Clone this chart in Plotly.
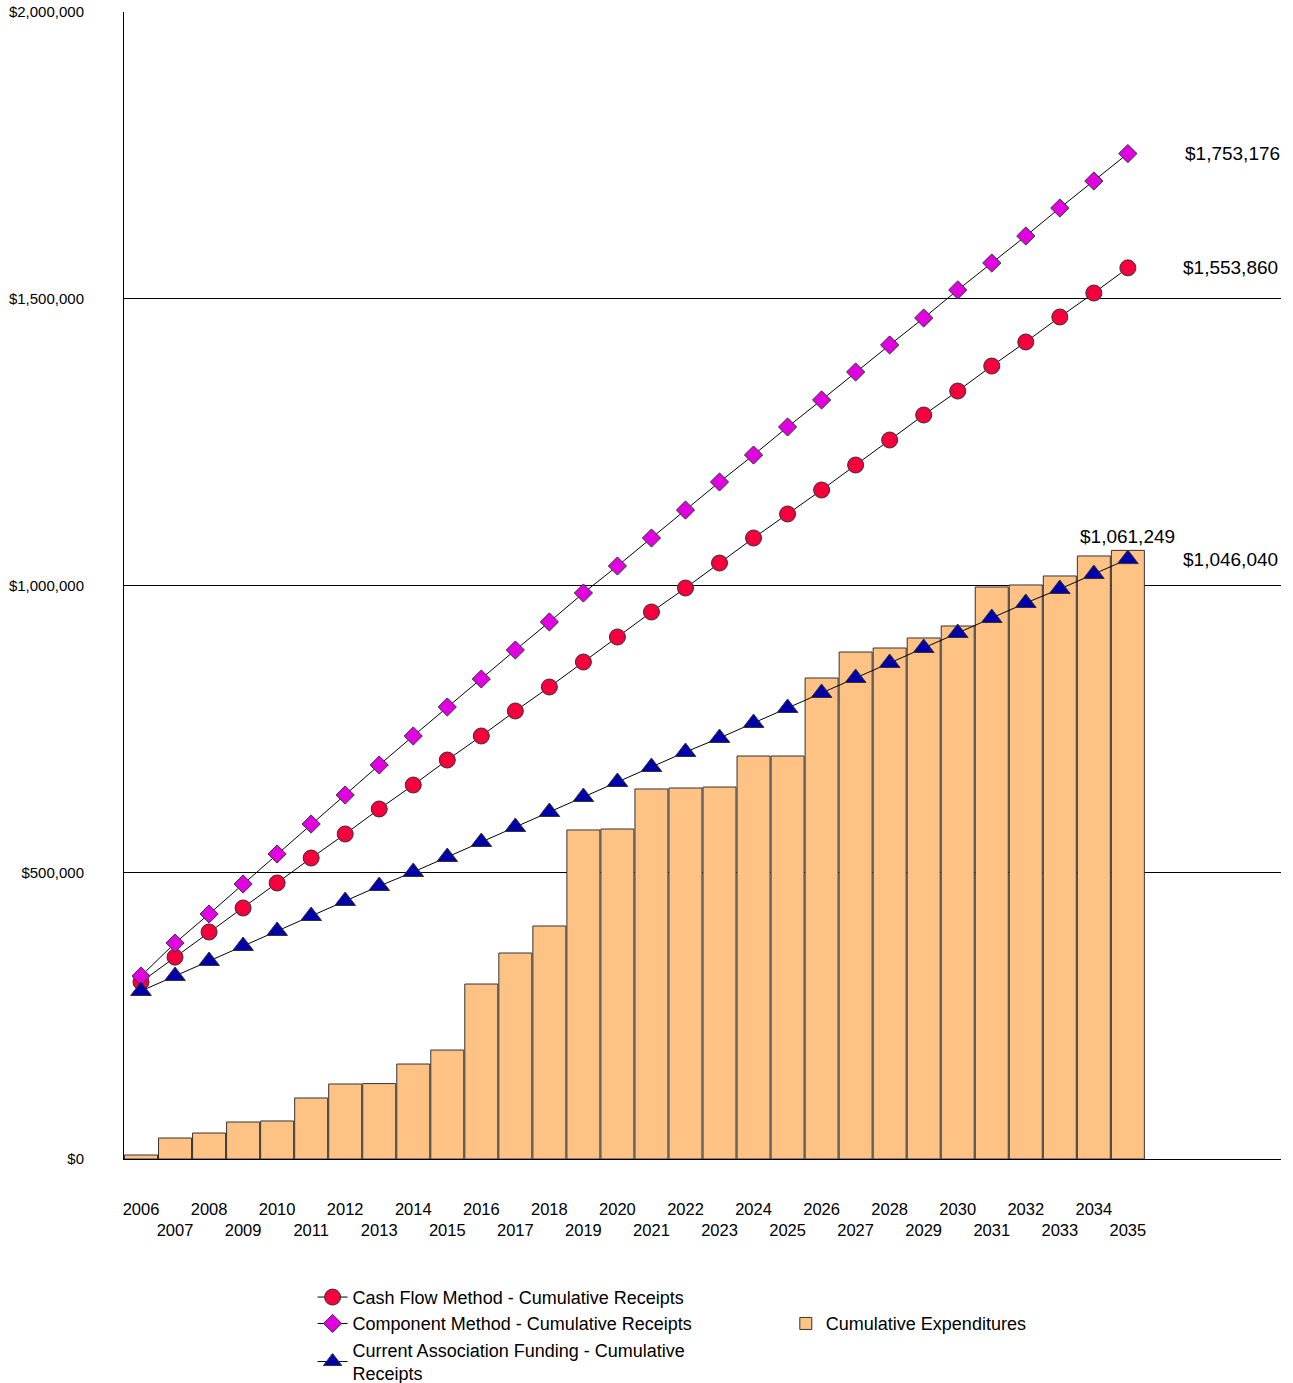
import plotly.graph_objects as go

years = list(range(2006, 2036))

expenditures = [7000, 36600, 45300, 64500, 66300, 106400, 130800, 131500, 165600, 190000,
                305100, 359200, 406300, 573700, 575400, 645200, 646900, 648600, 702700, 702700,
                838700, 884000, 891000, 908500, 929400, 997400, 1000900, 1016600, 1051500, 1061249]

cash_flow = [308600, 352000, 395800, 437700, 481300, 524800, 566700, 610300, 652100, 695700,
             737600, 781200, 823000, 866600, 910200, 953800, 995600, 1039200, 1082800, 1124700,
             1166500, 1210100, 1253700, 1297300, 1339100, 1382700, 1424600, 1468200, 1510000, 1553860]

component = [319100, 376600, 427200, 479500, 531800, 584100, 634700, 687000, 737600, 788100,
             837000, 887500, 936400, 986900, 1034000, 1082800, 1131600, 1180500, 1227500, 1276400,
             1323500, 1372300, 1419400, 1466400, 1515300, 1562300, 1609400, 1658200, 1705300, 1753176]

association = [292900, 319000, 345300, 371400, 397600, 423700, 449900, 476000, 500400, 526600,
               552700, 578900, 605100, 631200, 657400, 683500, 709700, 734100, 760200, 786400,
               812600, 838700, 864900, 891000, 917200, 943300, 969500, 993900, 1020000, 1046040]

y_ticks = [0, 500000, 1000000, 1500000, 2000000]

idx = list(range(len(years)))
tick_text = [str(y) if i % 2 == 0 else "<br>" + str(y) for i, y in enumerate(years)]

FONT = "Liberation Sans, Arial, sans-serif"

fig = go.Figure()

fig.add_trace(go.Bar(
    x=idx, y=expenditures, name="Cumulative Expenditures",
    marker=dict(color="#FFC285", line=dict(color="#333333", width=1)),
    legend="legend2",
))

fig.add_trace(go.Scatter(
    x=idx, y=cash_flow, mode="lines+markers",
    name="Cash Flow Method - Cumulative Receipts",
    line=dict(color="black", width=1),
    marker=dict(symbol="circle", size=16, color="#F5003D", line=dict(color="#333333", width=1)),
))
fig.add_trace(go.Scatter(
    x=idx, y=component, mode="lines+markers",
    name="Component Method - Cumulative Receipts",
    line=dict(color="black", width=1),
    marker=dict(symbol="diamond", size=14, color="#E000E0", line=dict(color="#333333", width=1)),
))
fig.add_trace(go.Scatter(
    x=idx, y=association, mode="lines+markers",
    name="Current Association Funding - Cumulative<br>Receipts",
    line=dict(color="black", width=1),
    marker=dict(symbol="triangle-up", size=18, color="#0000A8", line=dict(color="#333333", width=1)),
))

last = len(years) - 1
for val, shift in [(component[-1], 105), (cash_flow[-1], 103), (association[-1], 103)]:
    fig.add_annotation(x=last, y=val, text="${:,.0f}".format(val), showarrow=False,
                       xshift=shift, font=dict(size=19, color="black", family=FONT))
fig.add_annotation(x=last, y=expenditures[-1], text="${:,.0f}".format(expenditures[-1]),
                   showarrow=False, yanchor="bottom", yshift=1,
                   font=dict(size=19, color="black", family=FONT))

fig.update_layout(
    width=1293, height=1383,
    margin=dict(l=124, r=12, t=12, b=224, autoexpand=False),
    paper_bgcolor="white", plot_bgcolor="white",
    font=dict(family=FONT, color="black"),
    bargap=0.03,
    showlegend=True,
    legend=dict(x=0.163, y=-0.1045, xanchor="left", yanchor="top",
                font=dict(size=18, color="black", family=FONT),
                bgcolor="rgba(0,0,0,0)", tracegroupgap=0, itemwidth=30),
    legend2=dict(x=0.572, y=-0.1275, xanchor="left", yanchor="top",
                 font=dict(size=18, color="black", family=FONT),
                 bgcolor="rgba(0,0,0,0)", itemwidth=30),
    xaxis=dict(range=[-0.5, 33.5], tickmode="array", tickvals=idx, ticktext=tick_text,
               showgrid=False, showline=True, linecolor="black", linewidth=1,
               ticks="", tickangle=0, ticklabelstandoff=35, automargin=False,
               tickfont=dict(size=16.5, color="black", family=FONT), zeroline=False),
    yaxis=dict(range=[0, 2000000], tickmode="array", tickvals=y_ticks,
               ticktext=["${:,.0f}".format(v) for v in y_ticks],
               showgrid=True, gridcolor="black", gridwidth=1,
               showline=True, linecolor="black", linewidth=1, ticks="",
               ticklabelstandoff=36, zeroline=False, automargin=False,
               tickfont=dict(size=15, color="black", family=FONT)),
)

fig.write_html("out.html")
